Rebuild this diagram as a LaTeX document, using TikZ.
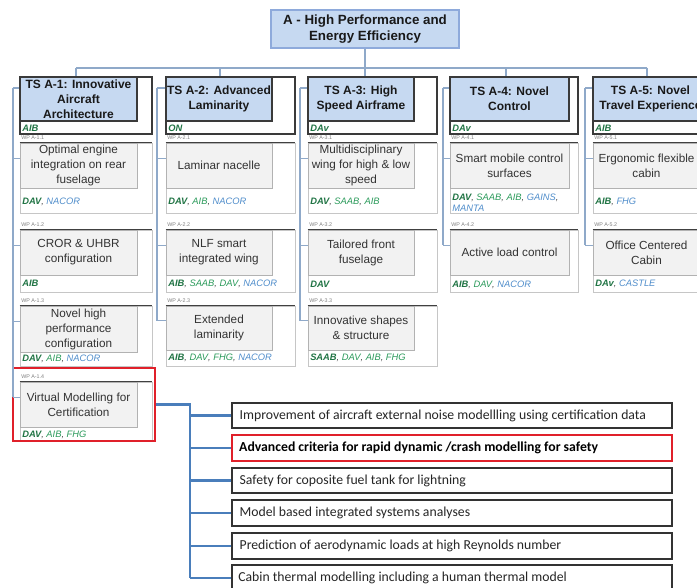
\documentclass[tikz,border=0pt]{standalone}
\usepackage{fontspec}
\setmainfont{Liberation Sans}
\newfontfamily\listfont{Carlito}
\usetikzlibrary{fit}
\definecolor{hdrblue}{HTML}{C6D9F1}
\definecolor{hdrline}{HTML}{3A3A3A}
\definecolor{topline}{HTML}{8EAADB}
\definecolor{connc}{HTML}{8FA9C9}
\definecolor{listblue}{HTML}{4A7EBB}
\definecolor{pgreen}{HTML}{2A9A5A}
\definecolor{pblue}{HTML}{4F8DCB}
\definecolor{wpgrey}{HTML}{F2F2F2}
\definecolor{redbox}{HTML}{E0202A}
\newcommand\LeadP[1]{\textbf{\textcolor{pgreen!75!black}{#1}}}
\newcommand\PartG[1]{\textcolor{pgreen}{#1}}
\newcommand\PartB[1]{\textcolor{pblue}{#1}}
\newcommand\WPitem[9]{%
  \node[wpframe, fit={(#2,#5) (#4,#7)}] (#1f) {};
  \draw[frametop] (#1f.north west) -- (#1f.north east);
  \node[wpbox, fit={(#2,#5) (#3,#6)}] (#1) {};
  \node[wptext] (#1t) at (#1.center) {#9};
  \node[wplabel] (#1l) at (#2+1,#5-5) {#8};
}
\tikzset{
  topbox/.style={draw=topline, fill=hdrblue, line width=0.8pt, inner sep=0},
  toptext/.style={font=\fontsize{10}{12}\selectfont\bfseries, align=center, inner sep=0, text=black!90},
  tsframe/.style={draw=hdrline, fill=white, line width=0.8pt, inner sep=0},
  hdr/.style={draw=hdrline, fill=hdrblue, line width=0.8pt, inner sep=0},
  hdrtext/.style={font=\fontsize{9}{11.25}\selectfont\bfseries, align=center, inner sep=0, text=black!90},
  wpframe/.style={draw=gray!45, fill=white, line width=0.6pt, inner sep=0},
  frametop/.style={draw=black!75, line width=0.7pt},
  wpbox/.style={draw=gray!60, fill=wpgrey, line width=0.6pt, inner sep=0},
  wptext/.style={font=\fontsize{8.8}{11.25}\selectfont, text=black!80, align=center, inner sep=0},
  wplabel/.style={font=\fontsize{4}{4.5}\selectfont, text=gray, anchor=west, inner sep=0},
  partners/.style={font=\fontsize{7}{8}\selectfont\itshape, text=black!70, anchor=west, inner sep=0, align=left},
  conn/.style={draw=connc, line width=0.8pt},
  listline/.style={draw=listblue, line width=1.6pt},
  listbox/.style={draw=black!80, line width=0.9pt, fill=white, inner sep=0},
  listtext/.style={font=\listfont\fontsize{10.3}{12}\selectfont, text=black!85, anchor=west, inner sep=0},
  redframe/.style={draw=redbox, line width=1.6pt, inner sep=0},
}
\begin{document}
\begin{tikzpicture}[x=0.75pt,y=-0.75pt]
\useasboundingbox (0,0) rectangle (697,588);
\clip (0,0) rectangle (697,588);
\fill[white] (0,0) rectangle (697,588);

% top box
\node[topbox, fit={(271,10) (459,48)}] (top) {};
\node[toptext] (topt) at (top.center) {A - High Performance and\\Energy Efficiency};
\coordinate (d1) at (76,68);
\coordinate (d2) at (220,68);
\coordinate (d3) at (365,68);
\coordinate (d4) at (506,68);
\coordinate (d5) at (647,68);

% TS frames and headers
\node[tsframe, fit={(20,77) (152,134)}] (ts1) {};
\node[hdr, fit={(20,77) (137,121)}] (h1) {};
\node[hdrtext] (h1t) at (h1.center) {TS A-1: Innovative\\Aircraft\\Architecture};
\node[partners] (l1) at (22,128) {\LeadP{AIB}};
\node[tsframe, fit={(166,77) (295,134)}] (ts2) {};
\node[hdr, fit={(166,77) (272,121)}] (h2) {};
\node[hdrtext] (h2t) at (h2.center) {TS A-2: Advanced\\Laminarity};
\node[partners] (l2) at (168,128) {\LeadP{ON}};
\node[tsframe, fit={(308,77) (437,134)}] (ts3) {};
\node[hdr, fit={(308,77) (414,121)}] (h3) {};
\node[hdrtext] (h3t) at (h3.center) {TS A-3: High\\Speed Airframe};
\node[partners] (l3) at (310,128) {\LeadP{DAv}};
\node[tsframe, fit={(450,77) (578,134)}] (ts4) {};
\node[hdr, fit={(450,77) (569,121)}] (h4) {};
\node[hdrtext] (h4t) at (h4.center) {TS A-4: Novel\\Control};
\node[partners] (l4) at (452,128) {\LeadP{DAv}};
\node[tsframe, fit={(593,77) (725,134)}] (ts5) {};
\node[hdr, fit={(593,77) (708,121)}] (h5) {};
\node[hdrtext] (h5t) at (h5.center) {TS A-5: Novel\\Travel Experience};
\node[partners] (l5) at (595,128) {\LeadP{AIB}};

% bus
\draw[conn] (top.south) -- (top.south |- d1);
\draw[conn] (d1) -- (d5);
\foreach \i in {1,...,5} {\draw[conn] (d\i) -- (d\i |- ts\i.north);}

% column 1
\WPitem{w11}{20}{137}{152}{143}{188}{213}{WP A-1.1}{Optimal engine\\integration on rear\\fuselage}
\node[partners] (p11) at (22,202) {\LeadP{DAV}, \PartB{NACOR}};
\WPitem{w12}{20}{137}{152}{230}{275}{292}{WP A-1.2}{CROR \& UHBR\\configuration}
\node[partners] (p12) at (22,283) {\LeadP{AIB}};
\WPitem{w13}{20}{137}{152}{306}{352}{366}{WP A-1.3}{Novel high\\performance\\configuration}
\node[partners] (p13) at (22,359) {\LeadP{DAV}, \PartG{AIB}, \PartB{NACOR}};
\WPitem{w14}{20}{137}{152}{382}{427}{440}{WP A-1.4}{Virtual Modelling for\\Certification}
\node[partners] (p14) at (22,435) {\LeadP{DAV}, \PartG{AIB}, \PartG{FHG}};
\node[redframe, fit={(13,368) (155,441)}] (red1) {};

% column 2
\WPitem{w21}{166}{272}{295}{143}{188}{213}{WP A-2.1}{Laminar nacelle}
\node[partners] (p21) at (168,202) {\LeadP{DAV}, \PartG{AIB}, \PartB{NACOR}};
\WPitem{w22}{166}{272}{295}{230}{275}{292}{WP A-2.2}{NLF smart\\integrated wing}
\node[partners] (p22) at (168,284) {\LeadP{AIB}, \PartG{SAAB}, \PartG{DAV}, \PartB{NACOR}};
\WPitem{w23}{166}{272}{295}{306}{350}{366}{WP A-2.3}{Extended\\laminarity}
\node[partners] (p23) at (168,358) {\LeadP{AIB}, \PartG{DAV}, \PartG{FHG}, \PartB{NACOR}};

% column 3
\WPitem{w31}{308}{414}{437}{143}{188}{213}{WP A-3.1}{Multidisciplinary\\wing for high \& low\\speed}
\node[partners] (p31) at (310,202) {\LeadP{DAV}, \PartG{SAAB}, \PartG{AIB}};
\WPitem{w32}{308}{414}{437}{230}{275}{292}{WP A-3.2}{Tailored front\\fuselage}
\node[partners] (p32) at (310,284) {\LeadP{DAV}};
\WPitem{w33}{308}{414}{437}{306}{350}{366}{WP A-3.3}{Innovative shapes\\\& structure}
\node[partners] (p33) at (310,358) {\LeadP{SAAB}, \PartG{DAV}, \PartG{AIB}, \PartG{FHG}};

% column 4
\WPitem{w41}{450}{569}{578}{143}{188}{213}{WP A-4.1}{Smart mobile control\\surfaces}
\node[partners] (p41) at (452,202.5) {\LeadP{DAV}, \PartG{SAAB}, \PartG{AIB}, \PartB{GAINS},\\\PartB{MANTA}};
\WPitem{w42}{450}{569}{578}{230}{275}{292}{WP A-4.2}{Active load control}
\node[partners] (p42) at (452,285) {\LeadP{AIB}, \PartG{DAV}, \PartB{NACOR}};

% column 5
\WPitem{w51}{593}{700}{725}{143}{188}{213}{WP A-5.1}{Ergonomic flexible\\cabin}
\node[partners] (p51) at (595,202) {\LeadP{AIB}, \PartB{FHG}};
\WPitem{w52}{593}{700}{725}{230}{275}{292}{WP A-5.2}{Office Centered\\Cabin}
\node[partners] (p52) at (595,284) {\LeadP{DAv}, \PartB{CASTLE}};

% column spines
\coordinate (s1) at (13,88);
\coordinate (s2) at (157,88);
\coordinate (s3) at (300,88);
\coordinate (s4) at (443,88);
\coordinate (s5) at (585,88);
\foreach \i in {1,...,5} {\draw[conn] (s\i) -- (s\i -| h\i.west);}
\draw[conn] (s1) -- ([yshift=5.5pt]w14.west -| s1);
\draw[conn] (s2) -- ([yshift=5.5pt]w23.west -| s2);
\draw[conn] (s3) -- ([yshift=5.5pt]w33.west -| s3);
\draw[conn] (s4) -- ([yshift=5.5pt]w42.west -| s4);
\draw[conn] (s5) -- ([yshift=5.5pt]w52.west -| s5);
\foreach \n/\s in {w11/s1,w12/s1,w13/s1,w14/s1,w21/s2,w22/s2,w23/s2,w31/s3,w32/s3,w33/s3,w41/s4,w42/s4,w51/s5,w52/s5}
  {\draw[conn] ([yshift=5.5pt]\n.west) -- ([yshift=5.5pt]\n.west -| \s);}

% list
\node[listbox, fit={(232,403) (672,428)}] (li1) {};
\node[redframe, fill=white, fit={(232,435) (672,461)}] (li2) {};
\node[listbox, fit={(232,468) (672,493)}] (li3) {};
\node[listbox, fit={(232,500) (672,526)}] (li4) {};
\node[listbox, fit={(232,533) (672,559)}] (li5) {};
\node[listbox, fit={(232,565) (672,592)}] (li6) {};
\node[listtext] (t1) at ([xshift=6pt]li1.west) {Improvement of aircraft external noise modellling using certification data};
\node[listtext, font=\listfont\fontsize{10.3}{12}\selectfont\bfseries, text=black] (t2) at ([xshift=6pt]li2.west) {Advanced criteria for rapid dynamic /crash modelling for safety};
\node[listtext] (t3) at ([xshift=6pt]li3.west) {Safety for coposite fuel tank for lightning};
\node[listtext] (t4) at ([xshift=6pt]li4.west) {Model based integrated systems analyses};
\node[listtext] (t5) at ([xshift=6pt]li5.west) {Prediction of aerodynamic loads at high Reynolds number};
\node[listtext] (t6) at (238,578) {Cabin thermal modelling including a human thermal model};

\coordinate (ls) at (190,404);
\coordinate (le) at (190,578);
\draw[listline] (w14.east -| red1.east) -- (w14.east -| ls) -- (le);
\foreach \i in {1,...,5} {\draw[listline] (li\i.west) -- (li\i.west -| ls);}
\draw[listline] (le) -- (le -| li6.west);
\end{tikzpicture}
\end{document}
